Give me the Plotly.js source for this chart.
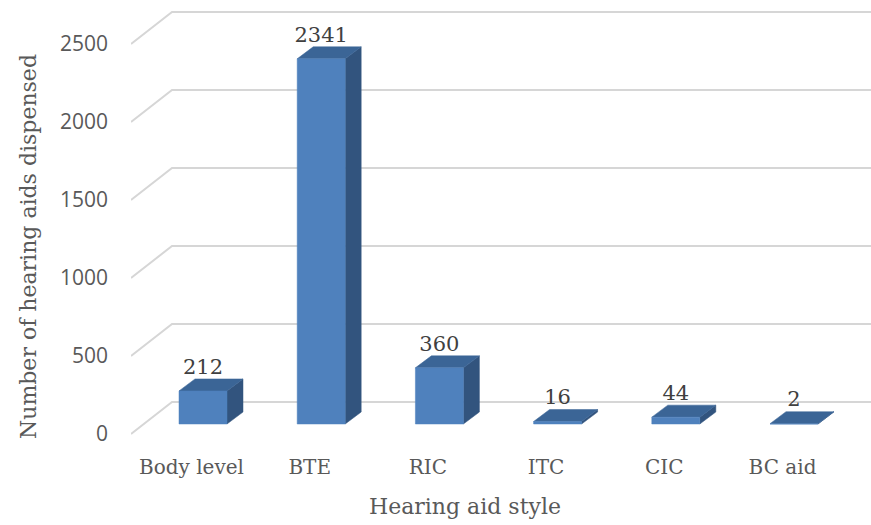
<!DOCTYPE html>
<html>
<head>
<meta charset="utf-8">
<script src="https://cdn.plot.ly/plotly-3.0.1.min.js"></script>
<style>
  html, body { margin: 0; padding: 0; background: #ffffff; }
  #chart { width: 871px; height: 525px; }
</style>
</head>
<body>
<div id="chart"></div>
<script>
// ---- data ----
const categories = ["Body level", "BTE", "RIC", "ITC", "CIC", "BC aid"];
const counts = [212, 2341, 360, 16, 44, 2];
const yTickValues = [0, 500, 1000, 1500, 2000, 2500];
const yTickLabels = ["0", "500", "1000", "1500", "2000", "2500"];

// ---- geometry (pixel layout of the 3D look) ----
const W = 871, H = 525;
const M = { l: 131, r: 0, t: 10, b: 85 };
const plotW = W - M.l - M.r, plotH = H - M.t - M.b;
const pxPerCat = 118.2;          // px per category on the front plane
const firstCatPx = 191.5 - M.l;  // px from plot left to first category
const pxPerUnit = 0.156;         // px per count
const zeroPx = 434 - M.t;        // px from plot top to value 0 on the front plane
const xRange = [-firstCatPx / pxPerCat, (plotW - firstCatPx) / pxPerCat];
const yRange = [-(plotH - zeroPx) / pxPerUnit, zeroPx / pxPerUnit];
const dx = p => p / pxPerCat;
const dy = p => p / pxPerUnit;

// wall depth and bar placement within depth
const wallDX = dx(41), wallDY = dy(32);
const barFrontDX = dx(11.5), barFrontDY = dy(10);
const barDepthDX = dx(16), barDepthDY = dy(12);
const barHalfW = dx(48) / 2;

const COL_FRONT = "#4F81BD", COL_SIDE = "#32547E", COL_TOP = "#3B6596";
const GRID = "#D6D6D6";

const traces = [];

// back-wall gridlines with diagonal floor/side connections
const gx = [], gy = [];
yTickValues.forEach(v => {
  gx.push(xRange[0], xRange[0] + wallDX, xRange[1], null);
  gy.push(v, v + wallDY, v + wallDY, null);
});
traces.push({
  type: "scatter", mode: "lines", x: gx, y: gy,
  line: { color: GRID, width: 2 }, hoverinfo: "skip", showlegend: false,
  cliponaxis: false
});

// 3D bars: front, side, top faces
function poly(xs, ys, color) {
  traces.push({
    type: "scatter", mode: "lines", x: xs, y: ys, fill: "toself",
    fillcolor: color, line: { color: color, width: 0.5 },
    hoverinfo: "skip", showlegend: false
  });
}
categories.forEach((c, i) => {
  const v = counts[i];
  const x0 = i + barFrontDX - barHalfW, x1 = i + barFrontDX + barHalfW;
  const y0 = barFrontDY, y1 = barFrontDY + v;
  // side
  poly([x1, x1 + barDepthDX, x1 + barDepthDX, x1, x1],
       [y0, y0 + barDepthDY, y1 + barDepthDY, y1, y0], COL_SIDE);
  // top
  poly([x0, x1, x1 + barDepthDX, x0 + barDepthDX, x0],
       [y1, y1, y1 + barDepthDY, y1 + barDepthDY, y1], COL_TOP);
  // front
  poly([x0, x1, x1, x0, x0], [y0, y0, y1, y1, y0], COL_FRONT);
});

// data labels
traces.push({
  type: "scatter", mode: "text",
  x: categories.map((c, i) => i + barFrontDX),
  y: counts.map(v => barFrontDY + v + barDepthDY),
  text: counts.map(String),
  textposition: "top center",
  textfont: { family: "DejaVu Serif, serif", size: 21, color: "#404040" },
  hoverinfo: "skip", showlegend: false, cliponaxis: false
});

const layout = {
  width: W, height: H,
  margin: M,
  paper_bgcolor: "#ffffff", plot_bgcolor: "#ffffff",
  showlegend: false,
  xaxis: {
    range: xRange, fixedrange: true,
    tickmode: "array", tickvals: categories.map((c, i) => i), ticktext: categories,
    showgrid: false, zeroline: false, showline: false, ticks: "",
    ticklabelstandoff: 13,
    tickfont: { family: "DejaVu Serif, serif", size: 20, color: "#595959" }
  },
  yaxis: {
    range: yRange, fixedrange: true,
    tickmode: "array", tickvals: yTickValues, ticktext: yTickLabels,
    showgrid: false, zeroline: false, showline: false, ticks: "",
    ticklabelstandoff: 22,
    tickfont: { family: "Open Sans, sans-serif", size: 21, color: "#595959" }
  },
  annotations: [
    {
      text: "Hearing aid style", xref: "paper", yref: "paper",
      x: (465 - M.l) / plotW, y: -(507 - (M.t + plotH)) / plotH,
      xanchor: "center", yanchor: "middle", showarrow: false,
      font: { family: "DejaVu Serif, serif", size: 22, color: "#595959" }
    },
    {
      text: "Number of hearing aids dispensed", xref: "paper", yref: "paper",
      x: (29 - M.l) / plotW, y: ((M.t + plotH) - 247) / plotH,
      xanchor: "center", yanchor: "middle", showarrow: false, textangle: -90,
      font: { family: "DejaVu Serif, serif", size: 22, color: "#595959" }
    }
  ]
};

Plotly.newPlot("chart", traces, layout, { displayModeBar: false, staticPlot: true });
</script>
</body>
</html>
